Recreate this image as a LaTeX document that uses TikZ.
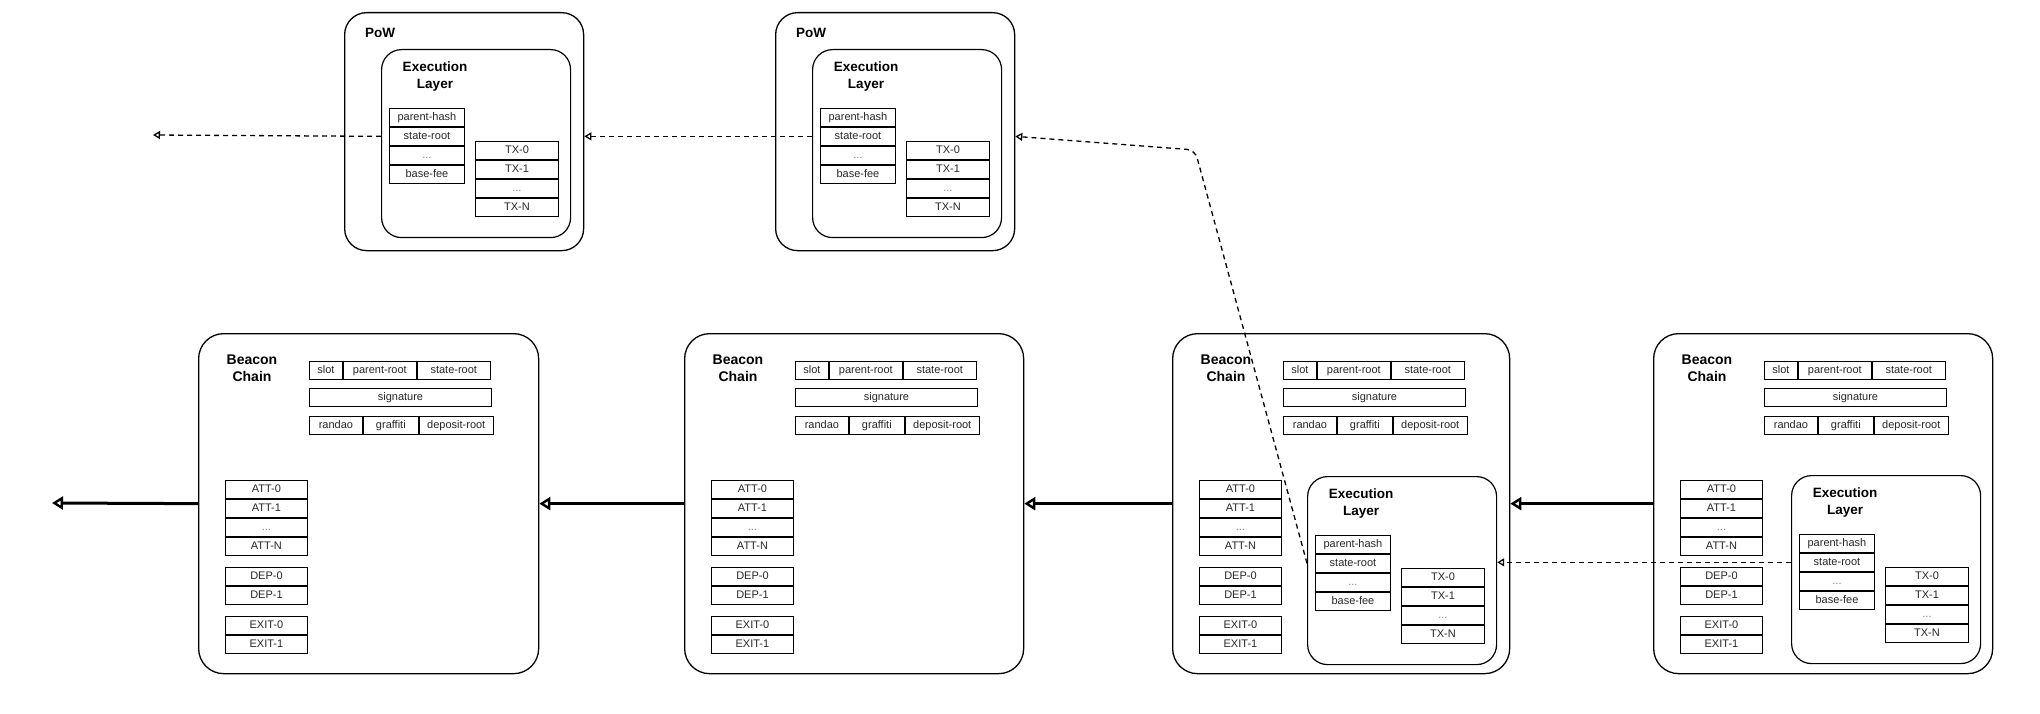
\documentclass[tikz,border=0pt]{standalone}
\usepackage{fontspec}
\setmainfont{Liberation Sans}
\usetikzlibrary{arrows.meta,calc}
\tikzset{
  cell/.style={draw, line width=0.9pt, inner sep=0pt, anchor=north west, minimum height=18pt,
    text height=8pt, text depth=2.2pt, font=\fontsize{11}{13}\selectfont, text=black!85},
  dotcell/.style={cell, text=black!50},
  outerbox/.style={draw, line width=1.3pt, inner sep=0pt, anchor=north west},
  elbox/.style={draw, line width=1.2pt, inner sep=0pt, anchor=north west, rounded corners=20pt,
    minimum width=189pt, minimum height=188pt},
  ttl/.style={font=\bfseries\fontsize{13.5}{17}\selectfont, align=center, inner sep=0pt},
  dasharrow/.style={line width=1.3pt, dash pattern=on 5pt off 4pt,
    -{Triangle[open,length=7pt,width=8pt,line width=1.3pt]}},
  boldarrow/.style={line width=3pt, -{Triangle[open,length=11pt,width=13pt,line width=2.4pt]}},
}
\newcommand\ELBlk[3]{%
  \node[elbox] (#1) at ({#2},{#3}) {};
  \node[ttl] (#1-t) at ({#2+54},{#3+27.5}) {Execution\\Layer};
  \node[cell, minimum width=75pt] (#1-ph) at ({#2+8},{#3+59}) {parent-hash};
  \node[cell, minimum width=75pt] (#1-sr) at (#1-ph.south west) {state-root};
  \node[dotcell, minimum width=75pt] (#1-dd) at (#1-sr.south west) {...};
  \node[cell, minimum width=75pt] (#1-bf) at (#1-dd.south west) {base-fee};
  \node[cell, minimum width=83pt] (#1-tx0) at ({#2+94},{#3+92}) {TX-0};
  \node[cell, minimum width=83pt] (#1-tx1) at (#1-tx0.south west) {TX-1};
  \node[dotcell, minimum width=83pt] (#1-txd) at (#1-tx1.south west) {...};
  \node[cell, minimum width=83pt] (#1-txn) at (#1-txd.south west) {TX-N};
}
\newcommand\PoWBlk[2]{%
  \node[outerbox, rounded corners=22pt, minimum width=239pt, minimum height=238pt] (#1) at (#2,12) {};
  \node[ttl] (#1-t) at ({#2+36},33) {PoW};
  \ELBlk{#1el}{#2+37}{49}
}
\newcommand\BeaconBlk[3]{%
  \node[outerbox, rounded corners=25pt, minimum width=#3pt, minimum height=340pt] (#1) at (#2,333) {};
  \node[ttl, font=\bfseries\fontsize{14}{17}\selectfont] (#1-t) at ({#2+54},368.5) {Beacon\\Chain};
  \node[cell, minimum width=33pt] (#1-slot) at ({#2+111},361) {slot};
  \node[cell, minimum width=73pt] (#1-pr) at (#1-slot.north east) {parent-root};
  \node[cell, minimum width=73pt] (#1-sr) at (#1-pr.north east) {state-root};
  \node[cell, minimum width=182pt] (#1-sig) at ({#2+111},388) {signature};
  \node[cell, minimum width=53pt] (#1-ran) at ({#2+111},416) {randao};
  \node[cell, minimum width=55pt] (#1-gra) at (#1-ran.north east) {graffiti};
  \node[cell, minimum width=74pt] (#1-dep) at (#1-gra.north east) {deposit-root};
  \node[cell, minimum width=82pt] (#1-a0) at ({#2+27},480) {ATT-0};
  \node[cell, minimum width=82pt] (#1-a1) at (#1-a0.south west) {ATT-1};
  \node[dotcell, minimum width=82pt] (#1-ad) at (#1-a1.south west) {...};
  \node[cell, minimum width=82pt] (#1-an) at (#1-ad.south west) {ATT-N};
  \node[cell, minimum width=82pt] (#1-d0) at ({#2+27},567) {DEP-0};
  \node[cell, minimum width=82pt] (#1-d1) at (#1-d0.south west) {DEP-1};
  \node[cell, minimum width=82pt] (#1-e0) at ({#2+27},616) {EXIT-0};
  \node[cell, minimum width=82pt] (#1-e1) at (#1-e0.south west) {EXIT-1};
}
\begin{document}
\begin{tikzpicture}[x=1pt, y=-1pt]
  \useasboundingbox (0,0) rectangle (2040,714);
  % PoW blocks
  \PoWBlk{p1}{344}
  \PoWBlk{p2}{775}
  % Beacon blocks
  \BeaconBlk{b1}{198}{340}
  \BeaconBlk{b2}{684}{339}
  \BeaconBlk{b3}{1172}{337}
  \BeaconBlk{b4}{1653}{339}
  \ELBlk{b3el}{1307}{476}
  \ELBlk{b4el}{1791}{475}
  % free ends
  \coordinate (p1out) at (153,135);
  \coordinate (bend) at (1195,150);
  \coordinate (b0) at (52,503);
  % dashed connectors
  \draw[dasharrow] (p1el.west |- p1el-sr.center) -- (p1out);
  \draw[dasharrow] (p2el.west |- p2el-sr.center) -- (p1.east |- p2el-sr.center);
  \draw[dasharrow, rounded corners=8pt] (b3el.west |- b3el-sr.center) -- (bend) -- (p2.east |- p2el-sr.center);
  \draw[dasharrow] (b4el.west |- b4el-sr.center) -- (b3el.east |- b4el-sr.center);
  % bold connectors
  \draw[boldarrow] (b1.west) -- (b0);
  \draw[boldarrow] (b2.west) -- (b1.east);
  \draw[boldarrow] (b3.west) -- (b2.east);
  \draw[boldarrow] (b4.west) -- (b3.east);
\end{tikzpicture}
\end{document}
